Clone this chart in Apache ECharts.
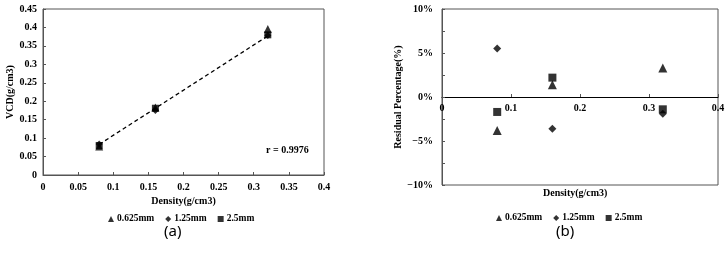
<!DOCTYPE html>
<html>
<head>
<meta charset="utf-8">
<script src="https://cdn.jsdelivr.net/npm/echarts@6/dist/echarts.min.js"></script>
<style>
    html, body { margin: 0; padding: 0; background: #fff; }
    #main { width: 728px; height: 253px; }
</style>
</head>
<body>
<div id="main"></div>
<script>
// data
var density = [0.08, 0.16, 0.32];
var seriesNames = ['0.625mm', '1.25mm', '2.5mm'];
var seriesSymbols = ['triangle', 'diamond', 'rect'];

// (a) VCD vs density
var vcd625 = [0.077, 0.183, 0.396];
var vcd125 = [0.084, 0.175, 0.378];
var vcd25 = [0.080, 0.181, 0.380];
var trendX = [0.08, 0.32];
var trendY = [0.083, 0.377];
var rText = 'r = 0.9976';

// (b) residual percentage
var res625 = [-3.8, 1.4, 3.3];
var res125 = [5.5, -3.6, -1.9];
var res25 = [-1.7, 2.2, -1.4];

var FONT = 'Liberation Serif';

function pairs(xs, ys) {
    var out = [];
    for (var i = 0; i < xs.length; i++) out.push([xs[i], ys[i]]);
    return out;
}

function pctLabel(v) {
    if (Math.abs(v % 5) > 0.001) return '';
    if (v < 0) return '\u2212' + Math.abs(v) + '%';
    return v + '%';
}

var labelStyle = {color: '#000', fontFamily: FONT, fontWeight: 'bold', fontSize: 10};
var nameStyle = {color: '#000', fontFamily: FONT, fontWeight: 'bold', fontSize: 10};

function scatter(name, symbol, data, axis, size) {
    return {
        name: name,
        type: 'scatter',
        symbol: symbol,
        symbolSize: symbol == 'triangle' ? size + 1 : size,
        xAxisIndex: axis,
        yAxisIndex: axis,
        itemStyle: {color: '#000'},
        data: data,
        z: 3
    };
}

var leftVals = [vcd625, vcd125, vcd25];
var rightVals = [res625, res125, res25];
var series = [];

// trend line of (a)
series.push({
    type: 'line',
    xAxisIndex: 0,
    yAxisIndex: 0,
    symbol: 'none',
    silent: true,
    lineStyle: {color: '#000', width: 1.3, type: [4, 3]},
    data: pairs(trendX, trendY),
    z: 2
});
for (var i = 0; i < seriesNames.length; i++) {
    series.push(scatter(seriesNames[i], seriesSymbols[i], pairs(density, leftVals[i]), 0, 7));
}
for (var j = 0; j < seriesNames.length; j++) {
    series.push(scatter(seriesNames[j], seriesSymbols[j], pairs(density, rightVals[j]), 1, 8));
}

function legendAt(left, top) {
    var data = [];
    for (var k = 0; k < seriesNames.length; k++) {
        data.push({name: seriesNames[k], icon: seriesSymbols[k]});
    }
    return {
        left: left,
        top: top,
        itemWidth: 6,
        itemHeight: 6,
        itemGap: 11,
        selectedMode: false,
        textStyle: {color: '#000', fontFamily: FONT, fontWeight: 'bold', fontSize: 9.5, padding: [0, 0, 0, -2]},
        data: data
    };
}

var option = {
    animation: false,
    backgroundColor: '#fff',
    grid: [
        {left: 43, top: 9, width: 281, height: 166, show: true, borderColor: '#555', borderWidth: 1},
        {left: 442, top: 9, width: 276, height: 176, show: true, borderColor: '#555', borderWidth: 1}
    ],
    xAxis: [
        {
            gridIndex: 0, type: 'value', min: 0, max: 0.4, interval: 0.05,
            name: 'Density(g/cm3)', nameLocation: 'middle', nameGap: 19, nameTextStyle: nameStyle,
            axisLine: {lineStyle: {color: '#555'}},
            axisTick: {inside: true, length: 3, lineStyle: {color: '#555'}},
            axisLabel: Object.assign({margin: 7}, labelStyle),
            splitLine: {show: false}
        },
        {
            // axis sits on the 0% line of (b)
            gridIndex: 1, type: 'value', min: 0, max: 0.4, interval: 0.1,
            position: 'bottom', offset: -88,
            axisLine: {onZero: false, lineStyle: {color: '#000'}},
            axisTick: {inside: true, length: 3, lineStyle: {color: '#555'}},
            axisLabel: Object.assign({margin: 6}, labelStyle),
            splitLine: {show: false}
        }
    ],
    yAxis: [
        {
            gridIndex: 0, type: 'value', min: 0, max: 0.45, interval: 0.05,
            name: 'VCD(g/cm3)', nameLocation: 'middle', nameGap: 28, nameTextStyle: nameStyle,
            axisLine: {show: true, lineStyle: {color: '#555'}},
            axisTick: {show: true, inside: true, length: 3, lineStyle: {color: '#555'}},
            axisLabel: Object.assign({margin: 6}, labelStyle),
            splitLine: {show: false}
        },
        {
            gridIndex: 1, type: 'value', min: -10, max: 10, interval: 2.5,
            name: 'Residual Percentage(%)', nameLocation: 'middle', nameGap: 35, nameTextStyle: nameStyle,
            axisLine: {show: true, lineStyle: {color: '#555'}},
            axisTick: {show: true, inside: true, length: 3, lineStyle: {color: '#555'}},
            axisLabel: Object.assign({margin: 9, formatter: pctLabel}, labelStyle),
            splitLine: {show: false}
        }
    ],
    legend: [legendAt(103, 209), legendAt(491, 208)],
    graphic: [
        {type: 'text', left: 266, top: 145, style: {text: rText, fill: '#000', font: 'bold 10px "Liberation Serif"'}},
        {type: 'text', left: 543, top: 188, style: {text: 'Density(g/cm3)', fill: '#000', font: 'bold 10px "Liberation Serif"'}},
        {type: 'text', left: 164, top: 224, style: {text: '(a)', fill: '#000', font: '15px "Noto Sans"'}},
        {type: 'text', left: 556, top: 224, style: {text: '(b)', fill: '#000', font: '15px "Noto Sans"'}}
    ],
    series: series
};

var chart = echarts.init(document.getElementById('main'));
chart.setOption(option);
</script>
</body>
</html>
